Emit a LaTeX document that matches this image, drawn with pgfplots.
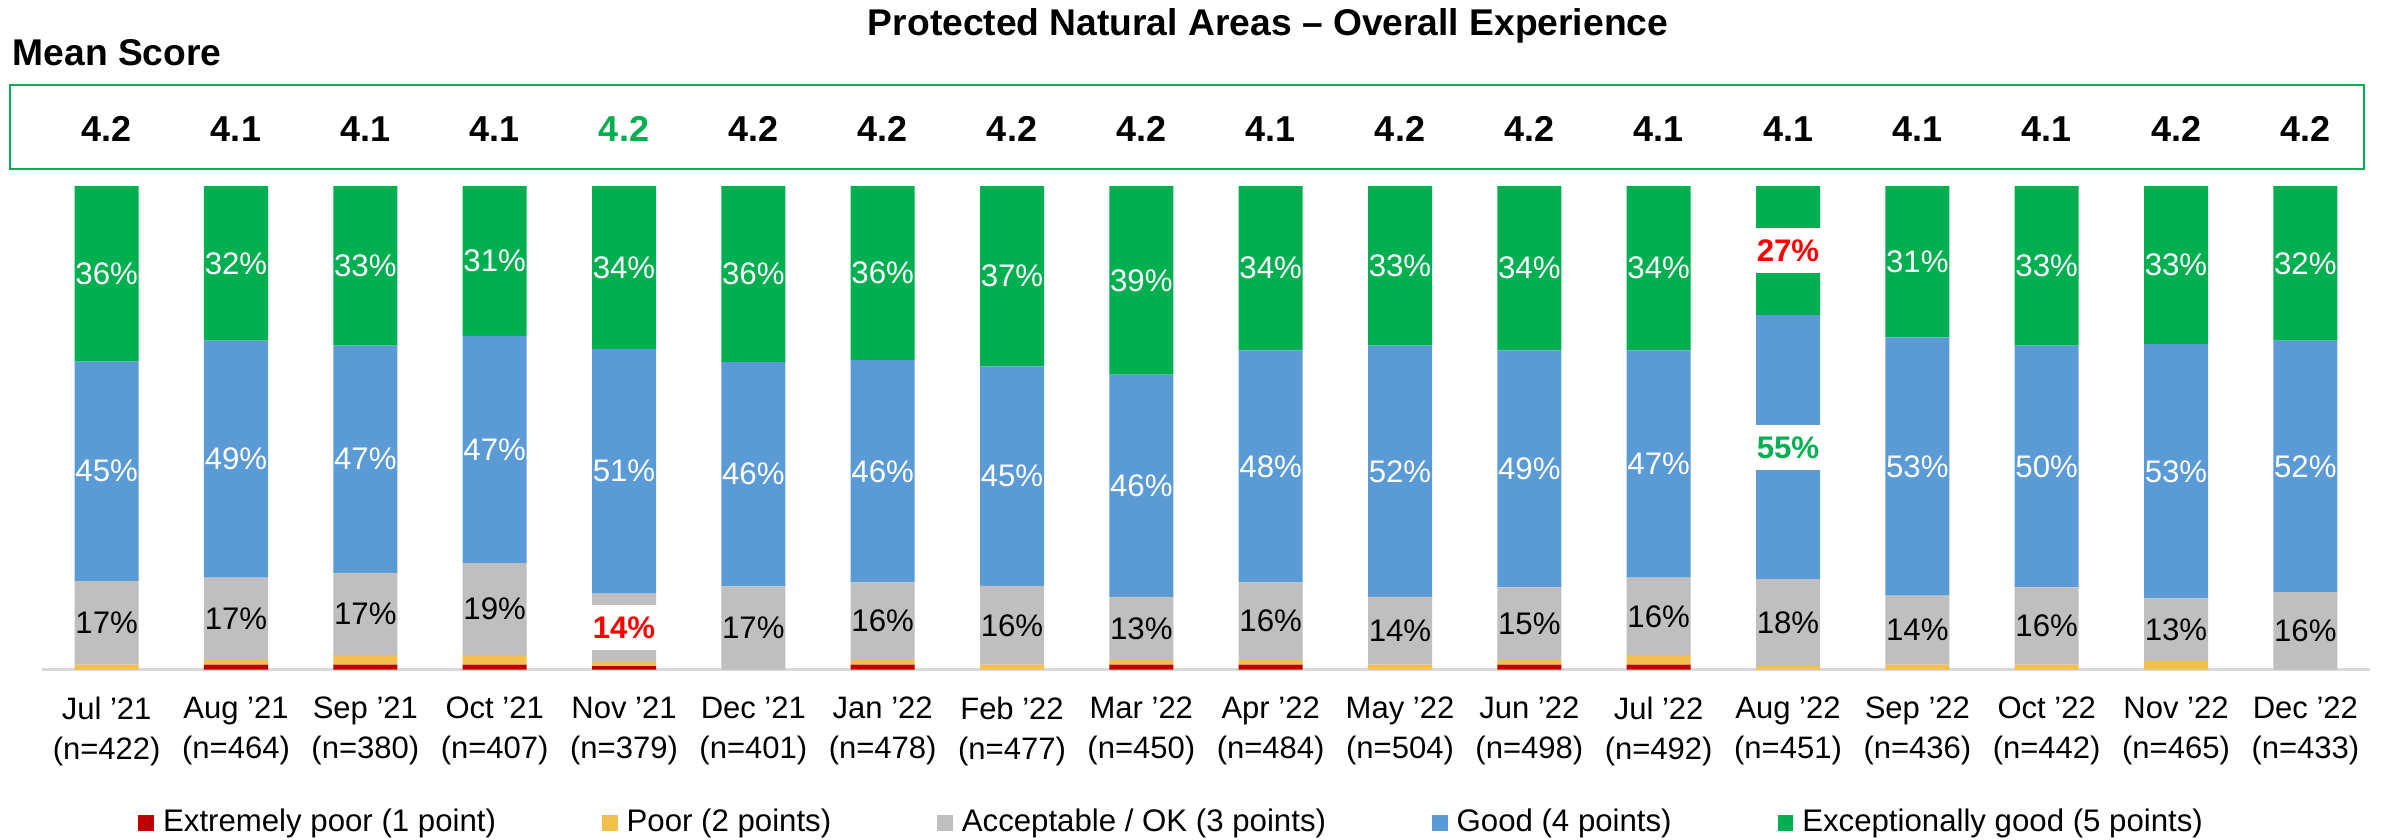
\documentclass[border=0pt]{standalone}
\usepackage{pgfplots}
\pgfplotsset{compat=1.18}
\usepackage{pgfplotstable}
\usepackage{fontspec}
\setmainfont{Liberation Sans}
\definecolor{cred}{HTML}{C00000}
\definecolor{cyel}{HTML}{F2C04C}
\definecolor{cgry}{HTML}{BFBFBF}
\definecolor{cblu}{HTML}{5B9BD5}
\definecolor{cgrn}{HTML}{00B050}
\definecolor{axgry}{HTML}{D9D9D9}
\newcommand\fs[1]{\fontsize{#1}{#1}\selectfont}
\protected\def\pn#1{\pgfmathprintnumber[fixed,precision=0,assume math mode=true]{#1}}
\protected\def\hlbox#1#2{{\setlength\fboxsep{0pt}\colorbox{white}{\makebox[16.8pt]{\rule[-2.9pt]{0pt}{11.25pt}\textcolor{#1}{\bfseries\pn{#2}\%}}}}}
\protected\def\Ln#1{\pn{#1}\%}
\protected\def\Lr#1{\hlbox{red}{#1}}
\protected\def\Lg#1{\hlbox{cgrn}{#1}}
\protected\def\Mb#1{\textcolor{black}{#1}}
\protected\def\Mg#1{\textcolor{cgrn}{#1}}

\pgfplotstableread{
x red yel gry blu grn gl bl nl
0 0 1 17.3 45.4 36.3 \Ln{17.3} \Ln{45.4} \Ln{36.3}
1 1 1 17 49 32 \Ln{17} \Ln{49} \Ln{32}
2 1 2 17 47 33 \Ln{17} \Ln{47} \Ln{33}
3 1 2 19 47 31 \Ln{19} \Ln{47} \Ln{31}
4 0.7 0.9 14.1 50.6 33.7 \Lr{14.1} \Ln{50.6} \Ln{33.7}
5 0 0 17.2 46.4 36.4 \Ln{17.2} \Ln{46.4} \Ln{36.4}
6 1 1 16 46 36 \Ln{16} \Ln{46} \Ln{36}
7 0 1 16.3 45.4 37.3 \Ln{16.3} \Ln{45.4} \Ln{37.3}
8 1 1 13 46 39 \Ln{13} \Ln{46} \Ln{39}
9 1 1 16 48 34 \Ln{16} \Ln{48} \Ln{34}
10 0 1 14 52 33 \Ln{14} \Ln{52} \Ln{33}
11 1 1 15 49 34 \Ln{15} \Ln{49} \Ln{34}
12 1 2 16 47 34 \Ln{16} \Ln{47} \Ln{34}
13 0 0.7 18 54.6 26.7 \Ln{18} \Lg{54.6} \Lr{26.7}
14 0 1 14.3 53.4 31.3 \Ln{14.3} \Ln{53.4} \Ln{31.3}
15 0 1 16 50 33 \Ln{16} \Ln{50} \Ln{33}
16 0 1.8 12.9 52.6 32.7 \Ln{12.9} \Ln{52.6} \Ln{32.7}
17 0 0 16 52 32 \Ln{16} \Ln{52} \Ln{32}
}\data

\pgfplotstableread{
x pos m lab
0 111.8 4.2 \Mb{4.2}
1 111.8 4.1 \Mb{4.1}
2 111.8 4.1 \Mb{4.1}
3 111.8 4.1 \Mb{4.1}
4 111.8 4.2 \Mg{4.2}
5 111.8 4.2 \Mb{4.2}
6 111.8 4.2 \Mb{4.2}
7 111.8 4.2 \Mb{4.2}
8 111.8 4.2 \Mb{4.2}
9 111.8 4.1 \Mb{4.1}
10 111.8 4.2 \Mb{4.2}
11 111.8 4.2 \Mb{4.2}
12 111.8 4.1 \Mb{4.1}
13 111.8 4.1 \Mb{4.1}
14 111.8 4.1 \Mb{4.1}
15 111.8 4.1 \Mb{4.1}
16 111.8 4.2 \Mb{4.2}
17 111.8 4.2 \Mb{4.2}
}\means

\begin{document}
\begin{tikzpicture}
\useasboundingbox (-10.5pt,-42.375pt) rectangle (585.5pt,167.375pt);
\begin{axis}[
  at={(0pt,0pt)}, anchor=south west,
  width=582pt, height=120.875pt, scale only axis,
  xmin=-0.5, xmax=17.5, ymin=0, ymax=100,
  ybar stacked, bar width=16pt,
  axis x line*=bottom, axis y line=none,
  x axis line style={draw=axgry, line width=0.6pt},
  ytick=\empty, xtick={0,...,17},
  xticklabels={{Jul '21\\(n=422)},{Aug '21\\(n=464)},{Sep '21\\(n=380)},{Oct '21\\(n=407)},{Nov '21\\(n=379)},{Dec '21\\(n=401)},{Jan '22\\(n=478)},{Feb '22\\(n=477)},{Mar '22\\(n=450)},{Apr '22\\(n=484)},{May '22\\(n=504)},{Jun '22\\(n=498)},{Jul '22\\(n=492)},{Aug '22\\(n=451)},{Sep '22\\(n=436)},{Oct '22\\(n=442)},{Nov '22\\(n=465)},{Dec '22\\(n=433)}},
  major tick length=0pt,
  xticklabel style={font=\fontsize{7.75}{10}\selectfont, align=center, anchor=north, inner sep=0pt, yshift=-6.6pt},
  clip=false,
  legend columns=5,
  legend style={at={(0.0411,-0.3175)}, anchor=west, draw=none, fill=none, inner sep=0pt, font=\fs{7.8},
    nodes={inner sep=0pt},
    /tikz/every odd column/.append style={column sep=2.25pt},
    /tikz/every even column/.append style={column sep=26.5pt}},
  legend image code/.code={\fill[#1] (0pt,-1.95pt) rectangle (3.9pt,1.95pt);},
]
\addplot[fill=cred, draw=none] table[x=x,y=red]{\data};
\addplot[fill=cyel, draw=none] table[x=x,y=yel]{\data};
\addplot[fill=cgry, draw=none, point meta=explicit symbolic,
  nodes near coords,
  every node near coord/.append style={anchor=center, inner sep=0pt, text=black, font=\fs{7.8}}]
  table[x=x,y=gry,meta=gl]{\data};
\addplot[fill=cblu, draw=none, point meta=explicit symbolic,
  nodes near coords,
  every node near coord/.append style={anchor=center, inner sep=0pt, text=white, font=\fs{7.8}}]
  table[x=x,y=blu,meta=bl]{\data};
\addplot[fill=cgrn, draw=none, point meta=explicit symbolic,
  nodes near coords,
  every node near coord/.append style={anchor=center, inner sep=0pt, text=white, font=\fs{7.8}}]
  table[x=x,y=grn,meta=nl]{\data};
\legend{Extremely poor (1 point), Poor (2 points), Acceptable / OK (3 points), Good (4 points), Exceptionally good (5 points)}
\draw[cgrn, line width=0.55pt] (axis cs:-0.748,103.5) rectangle (axis cs:17.454,120.9);
\node[font=\bfseries\fs{9.3}] at (axis cs:8.98,133.1) {Protected Natural Areas – Overall Experience};
\node[font=\bfseries\fs{9.3}, anchor=west, inner sep=0pt] at (axis cs:-0.732,127.5) {Mean Score};
\end{axis}
\begin{axis}[
  at={(0pt,0pt)}, anchor=south west,
  width=582pt, height=120.875pt, scale only axis,
  xmin=-0.5, xmax=17.5, ymin=0, ymax=100,
  hide axis, clip=false]
\addplot[draw=none, point meta=explicit symbolic,
  nodes near coords,
  every node near coord/.append style={anchor=center, inner sep=0pt, font=\bfseries\fs{9}}]
  table[x=x,y=pos,meta=lab]{\means};
\end{axis}
\end{tikzpicture}
\end{document}
